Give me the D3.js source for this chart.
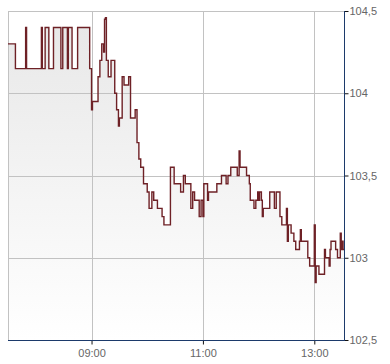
<!DOCTYPE html>
<html>
<head>
<meta charset="utf-8">
<script src="https://cdn.jsdelivr.net/npm/d3@7"></script>
<style>
body{margin:0;background:#fff;}
svg{display:block;font-family:Arial,"Liberation Sans",sans-serif;}
</style>
</head>
<body>
<svg id="chart" width="390" height="364"></svg>
<script>
// intraday prices (step series)
var times = ["07:30","07:38","07:49","07:50","08:06","08:07","08:10","08:14","08:19","08:27",
  "08:29","08:34","08:35","08:39","08:45","08:58","09:00","09:01","09:07","09:09",
  "09:11","09:13","09:14","09:15","09:16","09:18","09:21","09:25","09:27","09:29",
  "09:30","09:33","09:35","09:40","09:42","09:47","09:49","09:51","09:53","09:56",
  "10:00","10:02","10:05","10:07","10:11","10:16","10:18","10:25","10:29","10:36",
  "10:39","10:41","10:47","10:49","10:51","10:56","10:58","11:00","11:01","11:05",
  "11:06","11:15","11:20","11:25","11:27","11:30","11:37","11:39","11:40","11:47",
  "11:50","11:51","11:55","11:57","11:59","12:00","12:01","12:03","12:04","12:05",
  "12:12","12:17","12:19","12:23","12:25","12:30","12:31","12:32","12:35","12:38",
  "12:40","12:44","12:45","12:46","12:53","12:55","13:00","13:01","13:02","13:05",
  "13:11","13:12","13:16","13:17","13:18","13:23","13:25","13:28","13:29","13:30",
  "13:31"];
var prices = [104.30,104.15,104.40,104.15,104.40,104.15,104.40,104.15,104.40,104.15,
  104.40,104.15,104.40,104.15,104.40,104.15,103.90,103.95,104.10,104.20,
  104.30,104.25,104.45,104.46,104.20,104.10,104.20,104.00,103.90,103.80,
  103.85,104.10,104.05,104.10,103.85,103.90,103.70,103.60,103.55,103.45,
  103.40,103.30,103.40,103.35,103.30,103.25,103.20,103.55,103.45,103.40,
  103.50,103.45,103.30,103.40,103.35,103.25,103.35,103.25,103.45,103.35,
  103.40,103.45,103.50,103.45,103.50,103.55,103.50,103.65,103.55,103.50,
  103.45,103.35,103.30,103.35,103.40,103.35,103.40,103.35,103.25,103.30,
  103.40,103.30,103.40,103.25,103.20,103.30,103.10,103.20,103.15,103.10,
  103.05,103.10,103.17,103.10,103.00,102.95,103.20,102.85,102.95,102.90,
  103.05,103.00,102.95,103.05,103.10,103.05,103.00,103.15,103.05,103.10,
  103.05];
var timeRange = ["07:30","13:32"];
var xTicks = ["09:00","11:00","13:00"];
var yTicks = [102.5,103,103.5,104,104.5];

function drawChart(){
var parseTime = d3.timeParse("%H:%M");
var fmtTime = d3.timeFormat("%H:%M");
var deLocale = d3.formatLocale({decimal:",",thousands:".",grouping:[3],currency:["","€"]});
var fmtPrice = deLocale.format("~g");

var svg = d3.select("#chart");
var pLeft = 8, pRight = 344, pTop = 11, pBottom = 340;

var x = d3.scaleTime()
	.domain(timeRange.map(parseTime))
	.range([pLeft, pRight]);
var y = d3.scaleLinear()
	.domain([102.5,104.5])
	.range([pBottom, pTop]);

//data points, last price carried to the end of the range
var data = times.map(function(t,i){ return {t:parseTime(t), v:prices[i]}; });
data.push({t:parseTime(timeRange[1]), v:prices[prices.length-1]});

//gradient for the area under the line
var grad = svg.append("defs").append("linearGradient")
	.attr("id","fade")
	.attr("gradientUnits","userSpaceOnUse")
	.attr("x1",0).attr("y1",pTop).attr("x2",0).attr("y2",pBottom);
grad.append("stop").attr("offset","0%").attr("stop-color","#e7e7e7");
grad.append("stop").attr("offset","100%").attr("stop-color","#ffffff");

//area
var area = d3.area()
	.curve(d3.curveStepAfter)
	.x(function(d){ return x(d.t); })
	.y0(pBottom)
	.y1(function(d){ return y(d.v); });
svg.append("path")
	.datum(data)
	.attr("d", area)
	.style("fill","url(#fade)");

//grid lines
var grid = svg.append("g").attr("class","grid");
grid.selectAll("line.h")
	.data(yTicks)
	.enter()
	.append("line")
	.attr("class","h")
	.attr("x1",pLeft).attr("x2",pRight)
	.attr("y1",function(d){ return Math.round(y(d))+0.5; })
	.attr("y2",function(d){ return Math.round(y(d))+0.5; })
	.style("stroke","#c2c2c2");
grid.selectAll("line.v")
	.data(xTicks)
	.enter()
	.append("line")
	.attr("class","v")
	.attr("x1",function(d){ return Math.round(x(parseTime(d)))+0.5; })
	.attr("x2",function(d){ return Math.round(x(parseTime(d)))+0.5; })
	.attr("y1",pTop).attr("y2",pBottom)
	.style("stroke","#c2c2c2");
grid.append("line")
	.attr("x1",pLeft+0.5).attr("x2",pLeft+0.5)
	.attr("y1",pTop).attr("y2",pBottom)
	.style("stroke","#c2c2c2");

//price line
var line = d3.line()
	.curve(d3.curveStepAfter)
	.x(function(d){ return x(d.t); })
	.y(function(d){ return y(d.v); });
svg.append("path")
	.datum(data)
	.attr("d", line)
	.style("fill","none")
	.style("stroke","#6e2126")
	.style("stroke-width",1.4);

//axes
var yAxis = d3.axisRight(y)
	.tickValues(yTicks)
	.tickSize(4)
	.tickPadding(1)
	.tickFormat(fmtPrice);
var gy = svg.append("g")
	.attr("transform","translate("+(pRight+0.5)+",0)")
	.call(yAxis);

var xAxis = d3.axisBottom(x)
	.tickValues(xTicks.map(parseTime))
	.tickSize(4)
	.tickPadding(5)
	.tickFormat(fmtTime);
var gx = svg.append("g")
	.attr("transform","translate(0,"+(pBottom+0.5)+")")
	.call(xAxis);

[gx,gy].forEach(function(g){
	g.select(".domain").remove();
	g.selectAll(".tick line").style("stroke","#111");
	g.selectAll(".tick text")
		.style("fill","#666")
		.style("font-size","11px")
		.style("font-family","Arial,'Liberation Sans',sans-serif");
});
svg.append("line")
	.attr("x1",pLeft).attr("x2",pRight+1)
	.attr("y1",pBottom+0.5).attr("y2",pBottom+0.5)
	.style("stroke","#1c3a6b");
svg.append("line")
	.attr("x1",pRight+0.5).attr("x2",pRight+0.5)
	.attr("y1",pTop).attr("y2",pBottom+1)
	.style("stroke","#1c3a6b");
}

drawChart();
</script>
</body>
</html>
